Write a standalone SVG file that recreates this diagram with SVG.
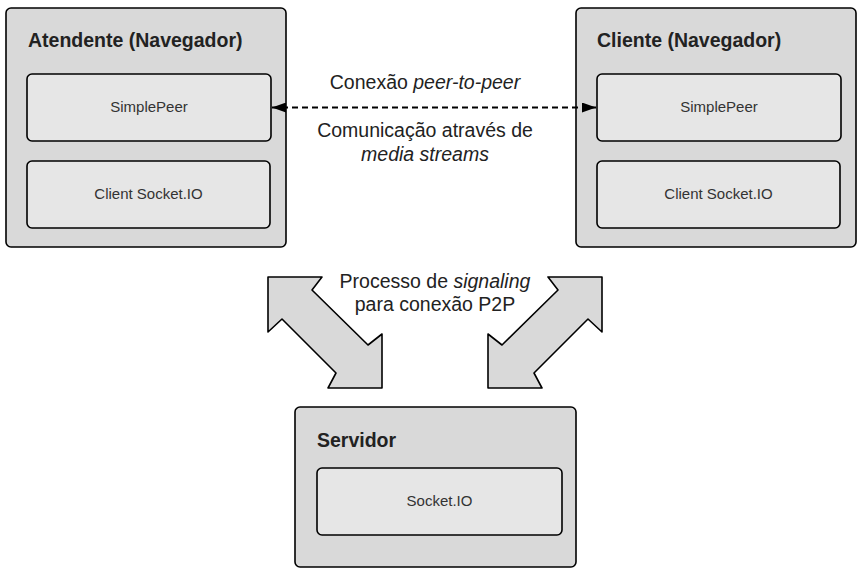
<svg xmlns="http://www.w3.org/2000/svg" width="863" height="573" viewBox="0 0 863 573">
<style>
.outer{fill:#d9d9d9;stroke:#000;stroke-width:1.6}
.inner{fill:#e6e6e6;stroke:#000;stroke-width:1.6}
.title{font-family:"Liberation Sans",Arial,sans-serif;font-weight:bold;font-size:19.5px;fill:#222}
.lbl{font-family:"Liberation Sans",Arial,sans-serif;font-size:15px;fill:#333;text-anchor:middle}
.cap{font-family:"Liberation Sans",Arial,sans-serif;font-size:19.5px;fill:#222;text-anchor:middle}
.big{fill:#d9d9d9;stroke:#000;stroke-width:1.6;stroke-linejoin:round}
.dash{stroke:#000;stroke-width:2;stroke-dasharray:6,4;fill:none}
</style>
<defs>
<marker id="ah" viewBox="0 0 14 10" refX="14" refY="5" markerWidth="14" markerHeight="10" markerUnits="userSpaceOnUse" orient="auto-start-reverse">
<path d="M0,0 L14,5 L0,10 Z" fill="#000"/>
</marker>
</defs>
<g id="atendente">
<rect class="outer" x="6" y="8" width="280" height="239" rx="5"/>
<text class="title" x="28" y="47">Atendente (Navegador)</text>
<g id="atendente-simplepeer">
<rect class="inner" x="27" y="74" width="244" height="67" rx="5"/>
<text class="lbl" x="149" y="112">SimplePeer</text>
</g>
<g id="atendente-socketio">
<rect class="inner" x="27" y="161" width="243" height="67" rx="5"/>
<text class="lbl" x="148.5" y="199">Client Socket.IO</text>
</g>
</g>
<g id="cliente">
<rect class="outer" x="576" y="8" width="280" height="239" rx="5"/>
<text class="title" x="597" y="47">Cliente (Navegador)</text>
<g id="cliente-simplepeer">
<rect class="inner" x="597" y="74" width="244" height="67" rx="5"/>
<text class="lbl" x="719" y="112">SimplePeer</text>
</g>
<g id="cliente-socketio">
<rect class="inner" x="597" y="161" width="243" height="67" rx="5"/>
<text class="lbl" x="718.5" y="199">Client Socket.IO</text>
</g>
</g>
<g id="servidor">
<rect class="outer" x="295" y="407" width="281" height="160" rx="5"/>
<text class="title" x="317" y="447">Servidor</text>
<g id="servidor-socketio">
<rect class="inner" x="317" y="468" width="245" height="67" rx="5"/>
<text class="lbl" x="439.5" y="506">Socket.IO</text>
</g>
</g>
<g id="connectors">
<line class="dash" x1="272" y1="107.5" x2="596" y2="107.5" marker-start="url(#ah)" marker-end="url(#ah)"/>
<polygon class="big" points="268,277 322,277 312,290 368,345 382,334 382,388 328,388 336,373 282,319 268,332"/>
<polygon class="big" points="602,277 602,332 588,319 534,373 542,388 488,388 488,334 502,345 558,290 548,277"/>
</g>
<g id="labels">
<text class="cap" x="425" y="89">Conexão <tspan font-style="italic">peer-to-peer</tspan></text>
<text class="cap" x="425" y="137">Comunicação através de</text>
<text class="cap" x="425" y="161" font-style="italic">media streams</text>
<text class="cap" x="435" y="288">Processo de <tspan font-style="italic">signaling</tspan></text>
<text class="cap" x="435" y="311">para conexão P2P</text>
</g>
</svg>
